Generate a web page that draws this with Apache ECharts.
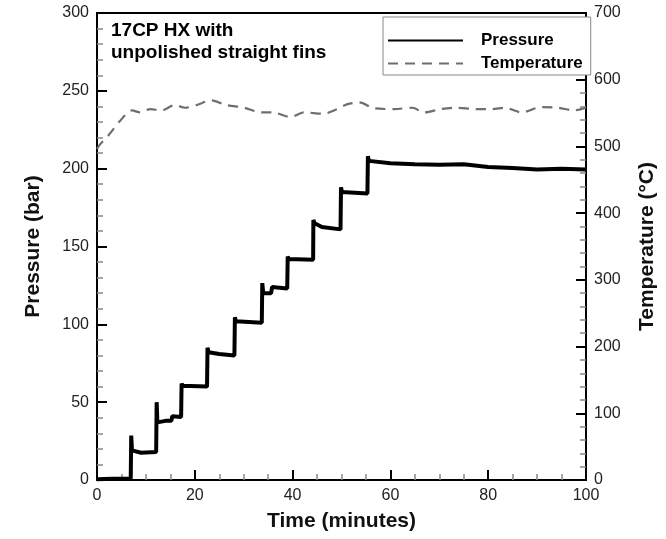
<!DOCTYPE html>
<html>
<head>
<meta charset="utf-8">
<script src="https://cdn.jsdelivr.net/npm/echarts@6/dist/echarts.min.js"></script>
<style>
	html, body { margin: 0; padding: 0; background: #fff; }
	#chart { width: 666px; height: 539px; }
</style>
</head>
<body>
<div id="chart"></div>
<script>
/* 压力阶梯曲线（时间 min, 压力 bar） */
var pressureTime  = [0, 3, 6.9, 7.0, 7.15, 9, 12.1, 12.2, 12.35, 14, 15.2, 15.4, 17.2, 17.3, 17.5, 22.5, 22.6, 22.8, 25, 28.1, 28.2, 28.4, 33.7, 33.8, 34.0, 35.6, 35.8, 38.9, 39.0, 39.2, 44.2, 44.25, 44.5, 46, 49.8, 49.9, 50.1, 55.3, 55.4, 55.6, 60, 65, 70, 75, 80, 85, 90, 95, 100];
var pressureValue = [0.5, 0.8, 1, 28.5, 19, 17.5, 18, 50, 37, 38, 38, 41, 40.5, 62, 60.5, 60, 85, 82, 81, 80, 104.5, 102, 101, 126.5, 120, 120, 124, 123, 143.5, 142, 141.5, 167, 165, 162.5, 161, 188, 185, 184, 208, 205, 203.5, 202.8, 202.5, 202.8, 201, 200.5, 199.5, 200, 199.5];

/* 温度曲线（时间 min, 温度 °C） */
var temperatureTime  = [0, 0.5, 2.4, 4.8, 7.2, 8.8, 10.9, 13.2, 15.9, 18, 20.3, 23.4, 26.4, 30.1, 33.5, 35.9, 39.6, 42.3, 46.3, 49.1, 51.1, 53.6, 56.8, 60.8, 64.5, 66.9, 70.3, 73.6, 77.4, 80.7, 83.4, 86.8, 90.9, 94.3, 97.6, 100];
var temperatureValue = [496, 502, 517, 539, 554, 551, 556, 554, 562, 558, 562, 569, 562, 558, 551, 551, 544, 551, 549, 556, 563, 566, 557, 556, 558, 551, 556, 558, 556, 556, 558, 551, 559, 558, 554, 558];

var seriesNames = ["Pressure", "Temperature"];
var titleLines = ["17CP HX with", "unpolished straight fins"];

var fontFamily = "Liberation Sans, Arial, sans-serif";

function zipPoints(xs, ys)
{
	var re = [];
	for(var i=0; i<xs.length; i++)
		re.push([xs[i], ys[i]]);
	return re;
}

function valueAxis(opts)
{
	var axis =
	{
		type: "value",
		min: opts.min,
		max: opts.max,
		interval: opts.interval,
		position: opts.position,
		name: opts.name,
		nameLocation: "middle",
		nameGap: opts.nameGap,
		nameRotate: opts.nameRotate,
		nameTextStyle: { fontFamily: fontFamily, fontSize: 21, fontWeight: "bold", color: "#111" },
		axisLine: { show: true, onZero: false, lineStyle: { color: "#000", width: 2 } },
		axisTick: { show: true, inside: true, length: 10, lineStyle: { color: "#000", width: 2 } },
		minorTick: { show: true, splitNumber: opts.minor, length: 6, lineStyle: { color: "#888", width: 1.5 } },
		axisLabel: { margin: 8, fontFamily: fontFamily, fontSize: 16, color: "#222" },
		splitLine: { show: false },
		minorSplitLine: { show: false }
	};
	return axis;
}

var chart = echarts.init(document.getElementById("chart"));

chart.setOption(
{
	animation: false,
	backgroundColor: "#fff",
	title:
	{
		text: titleLines.join("\n"),
		left: 111,
		top: 20,
		padding: 0,
		textStyle: { fontFamily: fontFamily, fontSize: 19, fontWeight: "bold", color: "#000", lineHeight: 22 }
	},
	legend:
	{
		data: seriesNames,
		orient: "vertical",
		left: 383,
		top: 17,
		padding: [15, 8, 3, 4],
		itemWidth: 75,
		itemHeight: 14,
		itemGap: 6,
		backgroundColor: "#fff",
		borderColor: "#888",
		borderWidth: 1,
		borderRadius: 0,
		itemStyle: { opacity: 0 },
		textStyle: { fontFamily: fontFamily, fontSize: 17, fontWeight: "bold", color: "#000", padding: [0, 0, 0, 13] }
	},
	grid:
	{
		left: 97,
		right: 72,
		top: 13,
		bottom: 59,
		show: true,
		borderColor: "#000",
		borderWidth: 2,
		backgroundColor: "transparent"
	},
	xAxis: valueAxis({ min: 0, max: 100, interval: 20, minor: 4, position: "bottom", name: "Time (minutes)", nameGap: 31 }),
	yAxis:
	[
		valueAxis({ min: 0, max: 300, interval: 50, minor: 5, position: "left", name: "Pressure (bar)", nameGap: 53, nameRotate: 90 }),
		valueAxis({ min: 0, max: 700, interval: 100, minor: 5, position: "right", name: "Temperature (°C)", nameGap: 51, nameRotate: 90 })
	],
	series:
	[
		{
			name: seriesNames[0],
			type: "line",
			yAxisIndex: 0,
			symbol: "none",
			data: zipPoints(pressureTime, pressureValue),
			lineStyle: { color: "#000", width: 4 },
			itemStyle: { color: "#000" },
			z: 3
		},
		{
			name: seriesNames[1],
			type: "line",
			yAxisIndex: 1,
			symbol: "none",
			smooth: 0.3,
			data: zipPoints(temperatureTime, temperatureValue),
			lineStyle: { color: "#6e6e6e", width: 2.2, type: [10, 7] },
			itemStyle: { color: "#6e6e6e" },
			z: 2
		}
	]
});
</script>
</body>
</html>
